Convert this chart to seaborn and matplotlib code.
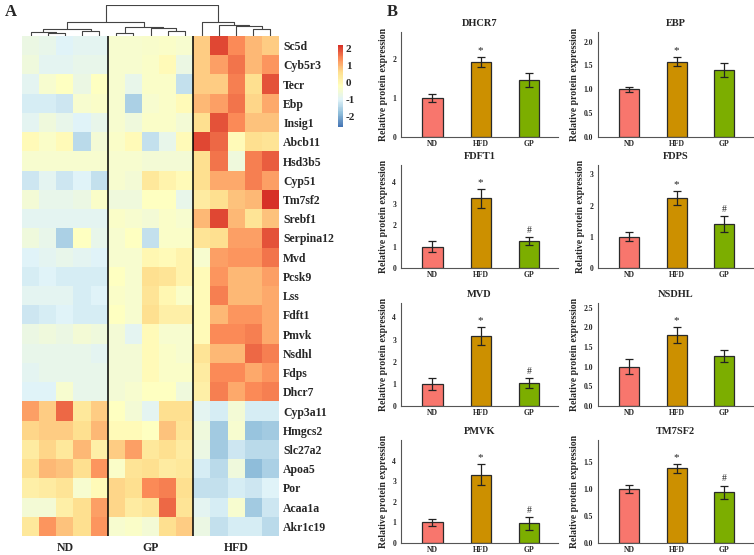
import numpy as np
import pandas as pd
import seaborn as sns
import matplotlib.pyplot as plt
from matplotlib.colors import LinearSegmentedColormap

# ---------------- panel A : heatmap (row z-scores) ----------------
genes = ['Sc5d', 'Cyb5r3', 'Tecr', 'Ebp', 'Insig1', 'Abcb11', 'Hsd3b5', 'Cyp51',
         'Tm7sf2', 'Srebf1', 'Serpina12', 'Mvd', 'Pcsk9', 'Lss', 'Fdft1', 'Pmvk',
         'Nsdhl', 'Fdps', 'Dhcr7', 'Cyp3a11', 'Hmgcs2', 'Slc27a2', 'Apoa5', 'Por',
         'Acaa1a', 'Akr1c19']
group_names = ['ND', 'GP', 'HFD']

nd_z = [
    [-0.7, -0.8, -1.0, -0.9, -0.9],
    [-0.6, -0.9, -0.9, -0.8, -0.8],
    [-0.9, -0.4, -0.2, -0.7, -0.2],
    [-1.1, -1.1, -1.2, -0.4, -0.3],
    [-0.9, -0.6, -0.8, -1.0, -0.8],
    [-0.1, -0.3, -0.1, -1.4, -0.5],
    [-0.4, -0.4, -0.4, -0.4, -0.4],
    [-1.2, -0.9, -1.2, -1.0, -1.3],
    [-0.5, -0.8, -0.8, -0.7, -0.3],
    [-0.9, -0.9, -0.9, -0.9, -0.9],
    [-0.6, -0.8, -1.5, -0.2, -0.8],
    [-1.0, -0.9, -0.8, -0.9, -1.0],
    [-1.1, -1.0, -1.1, -1.1, -1.1],
    [-0.9, -0.9, -0.9, -1.1, -1.0],
    [-1.2, -1.1, -1.0, -1.1, -1.1],
    [-0.7, -0.6, -0.7, -0.5, -0.6],
    [-0.8, -0.8, -0.8, -0.8, -0.9],
    [-0.9, -0.8, -0.8, -0.8, -0.8],
    [-1.0, -1.0, -0.4, -0.8, -0.8],
    [1.2, 0.8, 1.7, 0.4, 0.8],
    [0.7, 0.8, 0.8, 0.6, 1.0],
    [0.3, 0.7, 0.4, 1.0, 0.2],
    [0.6, 1.0, 0.9, 0.6, 1.3],
    [0.2, 0.3, 0.5, -0.4, -0.1],
    [-0.5, -0.5, 0.2, 0.6, 1.2],
    [0.4, 1.3, 0.9, 0.6, 1.3],
]
gp_z = [
    [-0.4, -0.4, -0.35, -0.3, -0.4],
    [-0.4, -0.4, -0.3, -0.1, -0.7],
    [-0.4, -0.8, -0.3, -0.3, -1.3],
    [-0.4, -1.5, -0.4, -0.3, -0.1],
    [-0.4, -0.6, -0.3, -0.3, -0.5],
    [-0.3, -0.1, -1.3, -0.8, -0.1],
    [-0.4, -0.4, -0.5, -0.5, -0.5],
    [-0.4, -0.5, 0.4, 0.1, -0.1],
    [-0.6, -0.6, -0.2, -0.2, -0.8],
    [-0.3, -0.4, -0.5, -0.3, -0.4],
    [-0.4, -0.2, -1.3, -0.3, -0.3],
    [-0.4, -0.4, 0.0, -0.1, 0.1],
    [-0.2, -0.4, 0.6, 0.5, 0.1],
    [-0.3, -0.4, 0.5, 0.0, -0.3],
    [-0.2, -0.4, 0.6, 0.2, 0.2],
    [-0.5, -0.9, -0.1, -0.4, -0.4],
    [-0.5, -0.5, -0.1, -0.3, -0.4],
    [-0.5, -0.5, -0.1, -0.3, -0.3],
    [-0.5, -0.4, -0.2, -0.2, -0.6],
    [-0.2, -0.5, -0.9, 0.6, 0.6],
    [-0.1, -0.1, -0.2, 0.9, 0.5],
    [0.8, 1.2, 0.4, 0.6, 0.3],
    [-0.3, 0.5, 0.6, 0.3, 0.4],
    [0.7, 0.6, 1.4, 1.5, 0.6],
    [0.7, 0.3, 0.5, 1.7, 0.5],
    [-0.4, -0.3, -0.5, 0.6, 0.8],
]
hfd_z = [
    [0.8, 2.0, 1.4, 1.0, 0.8],
    [0.8, 1.2, 1.6, 1.0, 1.3],
    [0.8, 0.8, 1.5, 0.6, 1.9],
    [1.0, 1.2, 1.6, 0.7, 1.1],
    [0.6, 1.9, 1.4, 0.9, 0.9],
    [2.0, 1.7, -0.1, 0.6, 0.5],
    [0.6, 1.6, -0.6, 1.5, 1.8],
    [0.6, 1.1, 1.1, 1.5, 1.2],
    [0.3, 0.6, 0.9, 1.0, 2.2],
    [1.0, 2.0, 1.0, 0.5, 0.9],
    [0.5, 0.6, 1.2, 1.2, 1.9],
    [-0.4, 1.2, 1.3, 1.3, 1.6],
    [-0.1, 1.3, 1.0, 1.0, 1.2],
    [-0.1, 1.5, 1.0, 1.0, 1.1],
    [-0.1, 1.0, 1.3, 1.3, 1.1],
    [-0.1, 1.4, 1.4, 1.5, 1.1],
    [0.5, 1.0, 1.0, 1.7, 1.5],
    [0.3, 1.4, 1.4, 1.1, 1.3],
    [0.2, 1.5, 1.1, 1.4, 1.5],
    [-0.9, -1.1, -0.5, -1.1, -1.1],
    [-0.6, -1.6, -0.4, -1.7, -1.6],
    [-0.7, -1.6, -1.2, -1.4, -1.4],
    [-1.1, -1.4, -0.6, -1.8, -1.5],
    [-1.3, -1.3, -1.1, -1.2, -1.0],
    [-0.9, -1.1, -0.4, -1.6, -1.2],
    [-0.7, -1.3, -1.1, -1.1, -1.4],
]

# column dendrogram: (left node, right node, height); leaves 0-14, merges 15+
col_merges = [
    (1, 2, 10), (0, 15, 12), (3, 4, 15), (16, 17, 20),
    (5, 6, 10), (8, 9, 15), (7, 20, 25), (19, 21, 27),
    (18, 22, 42),
    (13, 14, 20), (12, 24, 30), (11, 25, 32), (10, 26, 43),
    (23, 27, 92),
]

# ---------------- panel B : western blot quantification ----------------
bar_groups = ['ND', 'HFD', 'GP']
bar_colors = ['#F8766D', '#CC9000', '#7CAE00']

dhcr7 = [1.00, 1.93, 1.47]
dhcr7_sd = [0.11, 0.13, 0.18]
ebp = [1.00, 1.58, 1.40]
ebp_sd = [0.05, 0.10, 0.15]
fdft1 = [1.00, 3.24, 1.26]
fdft1_sd = [0.27, 0.45, 0.19]
fdps = [1.00, 2.24, 1.42]
fdps_sd = [0.15, 0.23, 0.26]
mvd = [1.00, 3.17, 1.05]
mvd_sd = [0.28, 0.40, 0.23]
nsdhl = [1.00, 1.80, 1.27]
nsdhl_sd = [0.19, 0.20, 0.16]
pmvk = [1.00, 3.31, 0.96]
pmvk_sd = [0.18, 0.51, 0.31]
tm7sf2 = [1.00, 1.38, 0.94]
tm7sf2_sd = [0.075, 0.08, 0.12]

proteins = ['DHCR7', 'EBP', 'FDFT1', 'FDPS', 'MVD', 'NSDHL', 'PMVK', 'TM7SF2']
gp_hash = ['FDFT1', 'FDPS', 'MVD', 'PMVK', 'TM7SF2']

# ---------------- figure ----------------
sns.set_style('white')
plt.rcParams['font.family'] = ['Liberation Serif', 'DejaVu Serif']
plt.rcParams['font.weight'] = 'bold'
plt.rcParams['axes.unicode_minus'] = False

W, H = 754, 555
fig = plt.figure(figsize=(W / 100, H / 100), dpi=100)


def px_axes(x0, y0, x1, y1):
    # axes from pixel box (top-left origin)
    return fig.add_axes([x0 / W, 1 - y1 / H, (x1 - x0) / W, (y1 - y0) / H])


# heatmap
hm = pd.DataFrame(np.hstack([np.array(nd_z), np.array(gp_z), np.array(hfd_z)]), index=genes)
pal = ['#4575B4', '#91BFDB', '#E0F3F8', '#FFFFBF', '#FEE090', '#FC8D59', '#D73027']
cmap = LinearSegmentedColormap.from_list('ph', pal, N=100)

ax_hm = px_axes(22, 36, 279, 536)
ax_cb = px_axes(338, 45, 343, 127)
sns.heatmap(hm, ax=ax_hm, cmap=cmap, vmin=-2.6, vmax=2.2, cbar_ax=ax_cb,
            xticklabels=False, yticklabels=genes,
            cbar_kws={'ticks': [-2, -1, 0, 1, 2]})
ax_hm.yaxis.tick_right()
ax_hm.set_yticklabels(genes, rotation=0, fontsize=8.5, fontweight='bold', ha='left')
ax_hm.tick_params(axis='y', length=0, pad=3)
ax_hm.set_xticks([2.5, 7.5, 12.5])
ax_hm.set_xticklabels(group_names, fontsize=8.5, fontweight='bold')
ax_hm.tick_params(axis='x', length=0, pad=4)
ax_hm.axvline(5, color='black', lw=1.1)
ax_hm.axvline(10, color='black', lw=1.1)
cbar = ax_hm.collections[0].colorbar
cbar.outline.set_visible(False)
cbar.ax.tick_params(length=0, labelsize=8, pad=2)
for t in cbar.ax.get_yticklabels():
    t.set_fontweight('bold')

# dendrogram
ax_dn = px_axes(22, 5, 279, 36)
pos = {i: i + 0.5 for i in range(15)}
hgt = {i: 0 for i in range(15)}
for k, (a, b, h) in enumerate(col_merges):
    node = 15 + k
    ax_dn.plot([pos[a], pos[a], pos[b], pos[b]], [hgt[a], h, h, hgt[b]],
               color='#444444', lw=0.8)
    pos[node] = (pos[a] + pos[b]) / 2
    hgt[node] = h
ax_dn.set_xlim(0, 15)
ax_dn.set_ylim(0, 93)
ax_dn.axis('off')

# bar panels
means = [dhcr7, ebp, fdft1, fdps, mvd, nsdhl, pmvk, tm7sf2]
sds = [dhcr7_sd, ebp_sd, fdft1_sd, fdps_sd, mvd_sd, nsdhl_sd, pmvk_sd, tm7sf2_sd]
ytops = [2.7, 2.2, 4.8, 3.3, 4.65, 2.62, 5.0, 1.9]
yticks = [[0, 1, 2], [0, 0.5, 1.0, 1.5, 2.0], [0, 1, 2, 3, 4], [0, 1, 2, 3],
          [0, 1, 2, 3, 4], [0, 0.5, 1.0, 1.5, 2.0, 2.5], [0, 1, 2, 3, 4],
          [0, 0.5, 1.0, 1.5]]
rows_px = [(32, 137), (165, 268), (303, 406), (440, 543)]
cols_px = [(401, 558), (598, 753)]

for i, name in enumerate(proteins):
    r, c = divmod(i, 2)
    ax = px_axes(cols_px[c][0], rows_px[r][0], cols_px[c][1], rows_px[r][1])
    df = pd.DataFrame({'group': bar_groups, 'value': means[i]})
    sns.barplot(data=df, x='group', y='value', hue='group', palette=bar_colors,
                legend=False, width=0.42, edgecolor='#2a2a2a', linewidth=0.9,
                saturation=1, errorbar=None, ax=ax)
    ax.errorbar(range(3), means[i], yerr=sds[i], fmt='none', ecolor='#222222',
                elinewidth=0.9, capsize=3.2, capthick=0.9)
    off = ytops[i] * 0.02
    ax.text(1, means[i][1] + sds[i][1] + off, '*', ha='center', va='bottom',
            fontsize=8, fontweight='normal')
    if name in gp_hash:
        ax.text(2, means[i][2] + sds[i][2] + off, '#', ha='center', va='bottom',
                fontsize=7, fontweight='normal')
    ax.set_xlim(-0.65, 2.6)
    ax.set_ylim(0, ytops[i])
    ax.set_yticks(yticks[i])
    if isinstance(yticks[i][1], float):
        ax.set_yticklabels([f'{v:.1f}' for v in yticks[i]])
    ax.set_title(name, fontsize=7.5, fontweight='bold', pad=4)
    ax.set_xlabel('')
    ax.set_ylabel('Relative protein expression', fontsize=7, fontweight='bold', labelpad=3)
    ax.tick_params(axis='y', labelsize=5.5, length=2, width=0.6, pad=1.5, color='#555555')
    ax.tick_params(axis='x', labelsize=5.5, length=0, pad=2)
    for t in ax.get_xticklabels() + ax.get_yticklabels():
        t.set_fontweight('bold')
    for s in ['top', 'right']:
        ax.spines[s].set_visible(False)
    for s in ['left', 'bottom']:
        ax.spines[s].set_color('#555555')
        ax.spines[s].set_linewidth(0.8)

fig.text(5 / W, 1 - 12 / H, 'A', fontsize=12, fontweight='bold', va='center')
fig.text(387 / W, 1 - 12 / H, 'B', fontsize=12, fontweight='bold', va='center')

fig.savefig('out.png', dpi=100)
